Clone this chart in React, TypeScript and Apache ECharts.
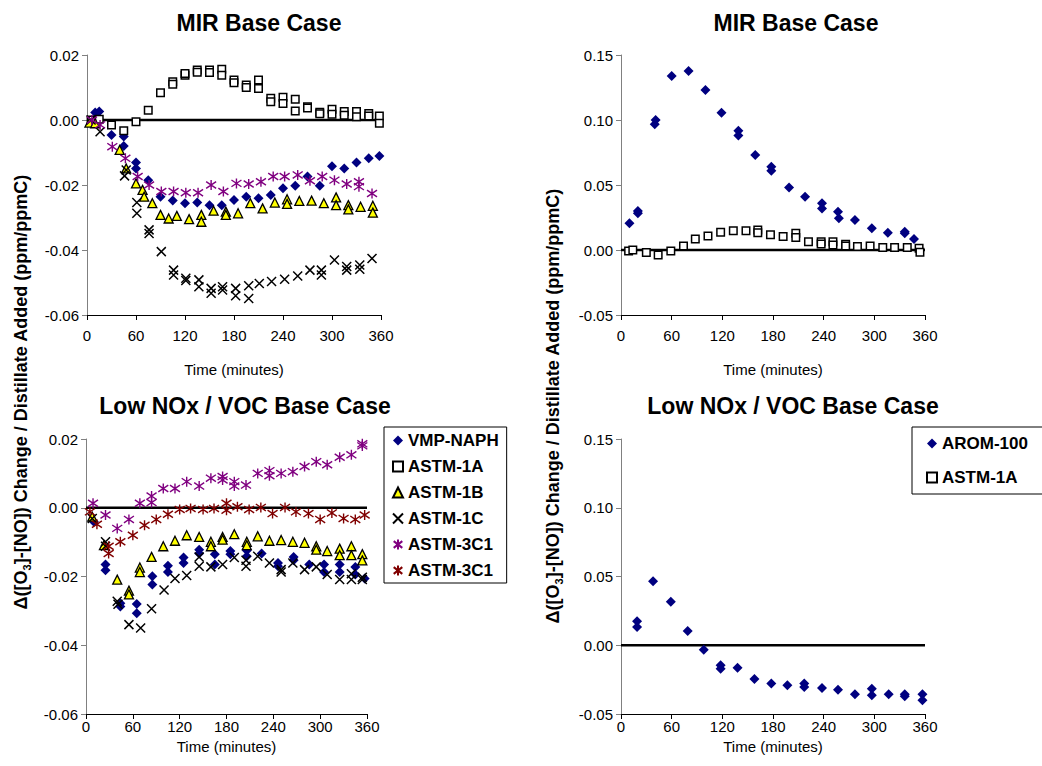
import React, { useEffect, useRef } from "react";
import * as echarts from "echarts";

const FONT = "'Liberation Sans', Arial, Helvetica, sans-serif";

// ---------- Panel 1: MIR Base Case (left) ----------
const tlVmpNaph = [[10,0.0023],[15,0.0026],[30,-0.0046],[45,-0.0051],[45,-0.008],[60,-0.0131],[60,-0.0149],[75,-0.0185],[90,-0.0236],[105,-0.0248],[120,-0.0256],[135,-0.0254],[150,-0.0262],[165,-0.0262],[180,-0.0246],[195,-0.0236],[210,-0.0241],[225,-0.0231],[240,-0.021],[255,-0.0202],[270,-0.0174],[285,-0.0202],[300,-0.0142],[315,-0.0149],[330,-0.0131],[345,-0.0118],[358,-0.0111]];
const tlAstm1A = [[5,0.0],[15,0.0002],[30,-0.0015],[45,-0.0033],[60,-0.0005],[75,0.003],[90,0.0084],[105,0.0118],[105,0.011],[120,0.0138],[120,0.0143],[135,0.0154],[135,0.0147],[150,0.0154],[150,0.0146],[165,0.0156],[165,0.0138],[180,0.0123],[180,0.0115],[195,0.0108],[195,0.01],[210,0.0123],[210,0.0097],[225,0.0067],[225,0.0056],[240,0.007],[240,0.0051],[255,0.0064],[255,0.0028],[270,0.0041],[270,0.0037],[285,0.0024],[285,0.0019],[300,0.0033],[300,0.0018],[315,0.0026],[315,0.0015],[330,0.0026],[330,0.001],[345,0.002],[345,0.0012],[358,0.0012],[358,-0.001]];
const tlAstm1B = [[3,-0.0008],[10,-0.001],[40,-0.0092],[48,-0.0149],[60,-0.0195],[68,-0.0215],[70,-0.0236],[80,-0.0256],[90,-0.0292],[100,-0.0303],[110,-0.0295],[125,-0.0305],[140,-0.0292],[140,-0.0313],[155,-0.0279],[170,-0.0282],[170,-0.0292],[185,-0.0287],[200,-0.0256],[215,-0.0272],[230,-0.0254],[245,-0.0244],[245,-0.0258],[260,-0.0249],[275,-0.0248],[290,-0.0256],[305,-0.0238],[305,-0.0262],[320,-0.0262],[320,-0.0275],[335,-0.0267],[350,-0.0264],[350,-0.0285]];
const tlAstm1C = [[5,0.0],[16,-0.0036],[46,-0.0172],[48,-0.0154],[61,-0.0254],[61,-0.0287],[76,-0.0338],[76,-0.0349],[91,-0.0405],[106,-0.0462],[106,-0.0477],[121,-0.0487],[121,-0.0494],[137,-0.0492],[137,-0.0513],[152,-0.0518],[152,-0.0533],[166,-0.0513],[166,-0.0523],[182,-0.0518],[182,-0.0541],[198,-0.051],[198,-0.0549],[211,-0.0503],[226,-0.0497],[242,-0.049],[258,-0.048],[273,-0.0462],[287,-0.0462],[287,-0.0477],[303,-0.0431],[318,-0.0451],[318,-0.0462],[334,-0.0446],[334,-0.0459],[349,-0.0426]];
const tlAstm3C1 = [[6,0.0],[16,-0.0015],[31,-0.0082],[47,-0.0118],[62,-0.0174],[76,-0.02],[91,-0.022],[106,-0.022],[121,-0.0224],[136,-0.0224],[152,-0.02],[167,-0.022],[183,-0.0195],[198,-0.0197],[213,-0.019],[228,-0.0174],[242,-0.0174],[258,-0.0169],[273,-0.0187],[288,-0.0174],[303,-0.0185],[318,-0.0197],[333,-0.0205],[333,-0.019],[349,-0.0226]];

// ---------- Panel 2: MIR Base Case (right) ----------
const trArom100 = [[10,0.0205],[20,0.0282],[20,0.03],[40,0.0967],[41,0.1],[60,0.1338],[80,0.1377],[100,0.1231],[119,0.1056],[139,0.0918],[139,0.088],[159,0.0731],[178,0.0641],[178,0.061],[199,0.048],[218,0.041],[238,0.0359],[238,0.032],[257,0.0295],[258,0.0244],[277,0.0231],[297,0.0167],[316,0.0133],[336,0.0141],[336,0.0128],[347,0.0085]];
const trAstm1A = [[9,-0.0008],[14,0],[30,-0.002],[44,-0.0038],[59,-0.0008],[74,0.0031],[88,0.0085],[103,0.0108],[118,0.0136],[133,0.0149],[148,0.0149],[162,0.0154],[162,0.0133],[177,0.0118],[192,0.0103],[207,0.0128],[207,0.0097],[222,0.0064],[237,0.0064],[237,0.0046],[251,0.0064],[251,0.0038],[266,0.0044],[266,0.003],[280,0.0026],[295,0.0031],[310,0.002],[324,0.002],[339,0.002],[353,0.0013],[354,-0.0018]];

// ---------- Panel 3: Low NOx / VOC Base Case (left) ----------
const blVmpNaph = [[10,-0.0041],[25,-0.0165],[25,-0.0182],[44,-0.0278],[44,-0.0287],[65,-0.028],[65,-0.0307],[85,-0.0199],[85,-0.0223],[105,-0.0169],[105,-0.0187],[125,-0.0145],[125,-0.0161],[145,-0.0122],[145,-0.0133],[165,-0.0135],[165,-0.0165],[185,-0.0126],[185,-0.0135],[206,-0.0124],[206,-0.0141],[225,-0.0133],[246,-0.0161],[246,-0.017],[266,-0.0143],[266,-0.0153],[286,-0.0165],[305,-0.0165],[305,-0.0187],[325,-0.0165],[325,-0.0187],[345,-0.0172],[345,-0.0194],[357,-0.0206]];
const blAstm1B = [[8,-0.0026],[23,-0.0109],[40,-0.0209],[55,-0.0241],[55,-0.0252],[69,-0.0174],[69,-0.0187],[84,-0.0143],[99,-0.0112],[114,-0.0096],[129,-0.008],[145,-0.0085],[160,-0.0099],[160,-0.0112],[175,-0.0085],[175,-0.0093],[190,-0.0077],[206,-0.0099],[206,-0.0109],[220,-0.0083],[235,-0.0096],[250,-0.0094],[265,-0.0099],[280,-0.0102],[295,-0.0112],[295,-0.0122],[309,-0.0126],[325,-0.0119],[325,-0.0138],[340,-0.0112],[340,-0.0138],[354,-0.0135],[354,-0.0153]];
const blAstm1C = [[8,-0.0031],[25,-0.0099],[25,-0.0112],[40,-0.0272],[41,-0.0281],[55,-0.034],[70,-0.035],[84,-0.0294],[100,-0.0239],[114,-0.0206],[129,-0.0197],[145,-0.0143],[145,-0.017],[160,-0.0172],[175,-0.0165],[190,-0.0145],[205,-0.0153],[205,-0.017],[220,-0.0141],[235,-0.0161],[250,-0.018],[250,-0.0187],[265,-0.0161],[280,-0.018],[295,-0.0172],[309,-0.0194],[325,-0.0209],[340,-0.0209],[340,-0.0192],[354,-0.0202],[354,-0.0209]];
const blAstm3C1a = [[9,0.0013],[25,-0.0021],[40,-0.006],[55,-0.0034],[69,0.0013],[84,0.0034],[84,0.0015],[99,0.0056],[114,0.0056],[129,0.0076],[145,0.0063],[160,0.0086],[175,0.0091],[175,0.0081],[190,0.0076],[190,0.0063],[205,0.0066],[220,0.01],[235,0.0108],[235,0.0093],[250,0.01],[265,0.0105],[280,0.012],[295,0.0134],[309,0.0125],[325,0.0147],[340,0.0154],[354,0.018],[354,0.0186]];
const blAstm3C1b = [[5,-0.0012],[14,-0.0048],[29,-0.0112],[29,-0.0133],[44,-0.0099],[60,-0.008],[75,-0.0051],[90,-0.0034],[105,-0.0019],[120,-0.0005],[134,-0.0002],[150,-0.0005],[164,-0.0002],[180,0.0013],[180,-0.0007],[194,0.0003],[209,-0.0005],[224,0.0001],[239,-0.0017],[255,0.0001],[269,-0.0012],[285,-0.0017],[300,-0.0034],[315,-0.0015],[330,-0.0031],[345,-0.0034],[357,-0.0021]];

// ---------- Panel 4: Low NOx / VOC Base Case (right) ----------
const brArom100 = [[19,0.0175],[19,0.0133],[38,0.0466],[59,0.0316],[79,0.0104],[98,-0.0032],[118,-0.0146],[118,-0.017],[138,-0.0163],[158,-0.0245],[178,-0.0279],[197,-0.0291],[217,-0.0279],[217,-0.0303],[238,-0.0311],[257,-0.0323],[277,-0.0357],[297,-0.0316],[297,-0.0364],[317,-0.0357],[336,-0.0357],[336,-0.0371],[357,-0.0357],[357,-0.04]];
const brAstm1A: number[][] = [];

const zeroLine = [[0, 0], [360, 0]];

const titles = ["MIR Base Case", "MIR Base Case", "Low NOx / VOC Base Case", "Low NOx / VOC Base Case"];
const legendLeft = ["VMP-NAPH", "ASTM-1A", "ASTM-1B", "ASTM-1C", "ASTM-3C1", "ASTM-3C1 "];
const legendRight = ["AROM-100", "ASTM-1A"];
const xName = "Time (minutes)";
const yName = "Δ([O{sub|3}]-[NO]) Change / Distillate Added (ppm/ppmC)";

const SYM_X = "path://M0,0L10,10M10,0L0,10";
const SYM_AST = "path://M5,0L5,10M0.7,1.6L9.3,8.4M9.3,1.6L0.7,8.4";

const STY = {
  diamond: { symbol: "diamond", symbolSize: 10, itemStyle: { color: "#000080", borderWidth: 0, opacity: 1 } },
  square: { symbol: "rect", symbolSize: 7.5, itemStyle: { color: "#ffffff", borderColor: "#000000", borderWidth: 1.5, opacity: 1 } },
  triangle: { symbol: "triangle", symbolSize: 9, itemStyle: { color: "#ffff00", borderColor: "#000000", borderWidth: 1.3, opacity: 1 } },
  cross: { symbol: SYM_X, symbolSize: 9, itemStyle: { color: "#000000", borderColor: "#000000", borderWidth: 1.5, opacity: 1 } },
  astPurple: { symbol: SYM_AST, symbolSize: 10, itemStyle: { color: "#800080", borderColor: "#800080", borderWidth: 1.4, opacity: 1 } },
  astRed: { symbol: SYM_AST, symbolSize: 10, itemStyle: { color: "#800000", borderColor: "#800000", borderWidth: 1.4, opacity: 1 } },
};

function scatter(name: string, data: number[][], idx: number, sty: any) {
  return {
    type: "scatter",
    name,
    data,
    xAxisIndex: idx,
    yAxisIndex: idx,
    symbol: sty.symbol,
    symbolSize: sty.symbolSize,
    itemStyle: sty.itemStyle,
    z: 3,
    silent: true,
  };
}

function zero(idx: number) {
  return {
    type: "line",
    data: zeroLine,
    xAxisIndex: idx,
    yAxisIndex: idx,
    symbol: "none",
    lineStyle: { color: "#000", width: 2.6 },
    z: 2,
    silent: true,
  };
}

const grids = [
  { left: 87, top: 55, width: 294, height: 260 },
  { left: 621, top: 55, width: 304, height: 260 },
  { left: 86, top: 439, width: 281, height: 275 },
  { left: 621, top: 439, width: 304, height: 275 },
];

function xAxis(idx: number, labelMargin: number, nameGap: number) {
  return {
    type: "value",
    gridIndex: idx,
    min: 0,
    max: 360,
    interval: 60,
    name: xName,
    nameLocation: "middle",
    nameGap,
    nameTextStyle: { fontSize: 15, color: "#000", fontFamily: FONT },
    axisLine: { show: true, onZero: false, lineStyle: { color: "#000", width: 1 } },
    axisTick: { show: true, length: 5, lineStyle: { color: "#000" } },
    axisLabel: { fontSize: 15, color: "#000", fontFamily: FONT, margin: labelMargin },
    splitLine: { show: false },
  };
}

function yAxis(idx: number, min: number, max: number, interval: number) {
  return {
    type: "value",
    gridIndex: idx,
    min,
    max,
    interval,
    axisLine: { show: true, onZero: false, lineStyle: { color: "#808080", width: 1 } },
    axisTick: { show: true, length: 5, lineStyle: { color: "#808080" } },
    axisLabel: {
      fontSize: 15,
      color: "#000",
      fontFamily: FONT,
      margin: 8,
      formatter: (v: number) => (Math.abs(v) < 1e-9 ? 0 : v).toFixed(2),
    },
    splitLine: { show: false },
  };
}

const titleText = (text: string, x: number, y: number) => ({
  type: "text",
  x,
  y,
  style: {
    text,
    fontSize: 23,
    fontWeight: "bold",
    fontFamily: FONT,
    fill: "#000",
    align: "center",
    verticalAlign: "middle",
  },
});

const yLabel = (x: number, y: number) => ({
  type: "text",
  x,
  y,
  rotation: Math.PI / 2,
  style: {
    text: yName,
    fontSize: 18,
    fontWeight: "bold",
    fontFamily: FONT,
    fill: "#000",
    align: "center",
    verticalAlign: "middle",
    lineHeight: 22,
    rich: {
      sub: { fontSize: 11, fontWeight: "bold", fontFamily: FONT, fill: "#000", lineHeight: 11, verticalAlign: "bottom" },
    },
  },
});

const legendText = { fontSize: 17, fontWeight: "bold", color: "#000", fontFamily: FONT };

export default function App() {
  const ref = useRef<HTMLDivElement>(null);
  useEffect(() => {
    if (!ref.current) return;
    const chart = echarts.init(ref.current, undefined, { renderer: "svg" });
    chart.setOption({
      animation: false,
      backgroundColor: "#ffffff",
      grid: grids,
      xAxis: [xAxis(0, 13, 47), xAxis(1, 13, 47), xAxis(2, 5, 25), xAxis(3, 5, 25)],
      yAxis: [
        yAxis(0, -0.06, 0.02, 0.02),
        yAxis(1, -0.05, 0.15, 0.05),
        yAxis(2, -0.06, 0.02, 0.02),
        yAxis(3, -0.05, 0.15, 0.05),
      ],
      legend: [
        {
          data: legendLeft,
          orient: "vertical",
          left: 384,
          top: 427,
          itemWidth: 10,
          itemHeight: 10,
          itemGap: 9,
          padding: [5, 8, 4, 8],
          borderColor: "#000",
          borderWidth: 1,
          selectedMode: false,
          textStyle: legendText,
          formatter: (n: string) => n.trim(),
        },
        {
          data: legendRight,
          orient: "vertical",
          left: 912,
          top: 427,
          itemWidth: 10,
          itemHeight: 10,
          itemGap: 17,
          padding: [8, 45, 8, 14],
          borderColor: "#000",
          borderWidth: 1,
          selectedMode: false,
          textStyle: legendText,
        },
      ],
      graphic: [
        titleText(titles[0], 259, 23),
        titleText(titles[1], 796, 23),
        titleText(titles[2], 245, 406),
        titleText(titles[3], 793, 406),
        yLabel(21, 392),
        yLabel(553, 406),
      ],
      series: [
        zero(0), zero(1), zero(2), zero(3),
        scatter("VMP-NAPH", tlVmpNaph, 0, STY.diamond),
        scatter("ASTM-1A", tlAstm1A, 0, STY.square),
        scatter("ASTM-1B", tlAstm1B, 0, STY.triangle),
        scatter("ASTM-1C", tlAstm1C, 0, STY.cross),
        scatter("ASTM-3C1", tlAstm3C1, 0, STY.astPurple),
        scatter("AROM-100", trArom100, 1, STY.diamond),
        scatter("ASTM-1A", trAstm1A, 1, STY.square),
        scatter("VMP-NAPH", blVmpNaph, 2, STY.diamond),
        scatter("ASTM-1B", blAstm1B, 2, STY.triangle),
        scatter("ASTM-1C", blAstm1C, 2, STY.cross),
        scatter("ASTM-3C1", blAstm3C1a, 2, STY.astPurple),
        scatter("ASTM-3C1 ", blAstm3C1b, 2, STY.astRed),
        scatter("AROM-100", brArom100, 3, STY.diamond),
        scatter("ASTM-1A", brAstm1A, 3, STY.square),
      ],
    });
    return () => chart.dispose();
  }, []);
  return (
    <div
      ref={ref}
      style={{ position: "fixed", left: 0, top: 0, width: 1042, height: 766, background: "#fff" }}
    />
  );
}
